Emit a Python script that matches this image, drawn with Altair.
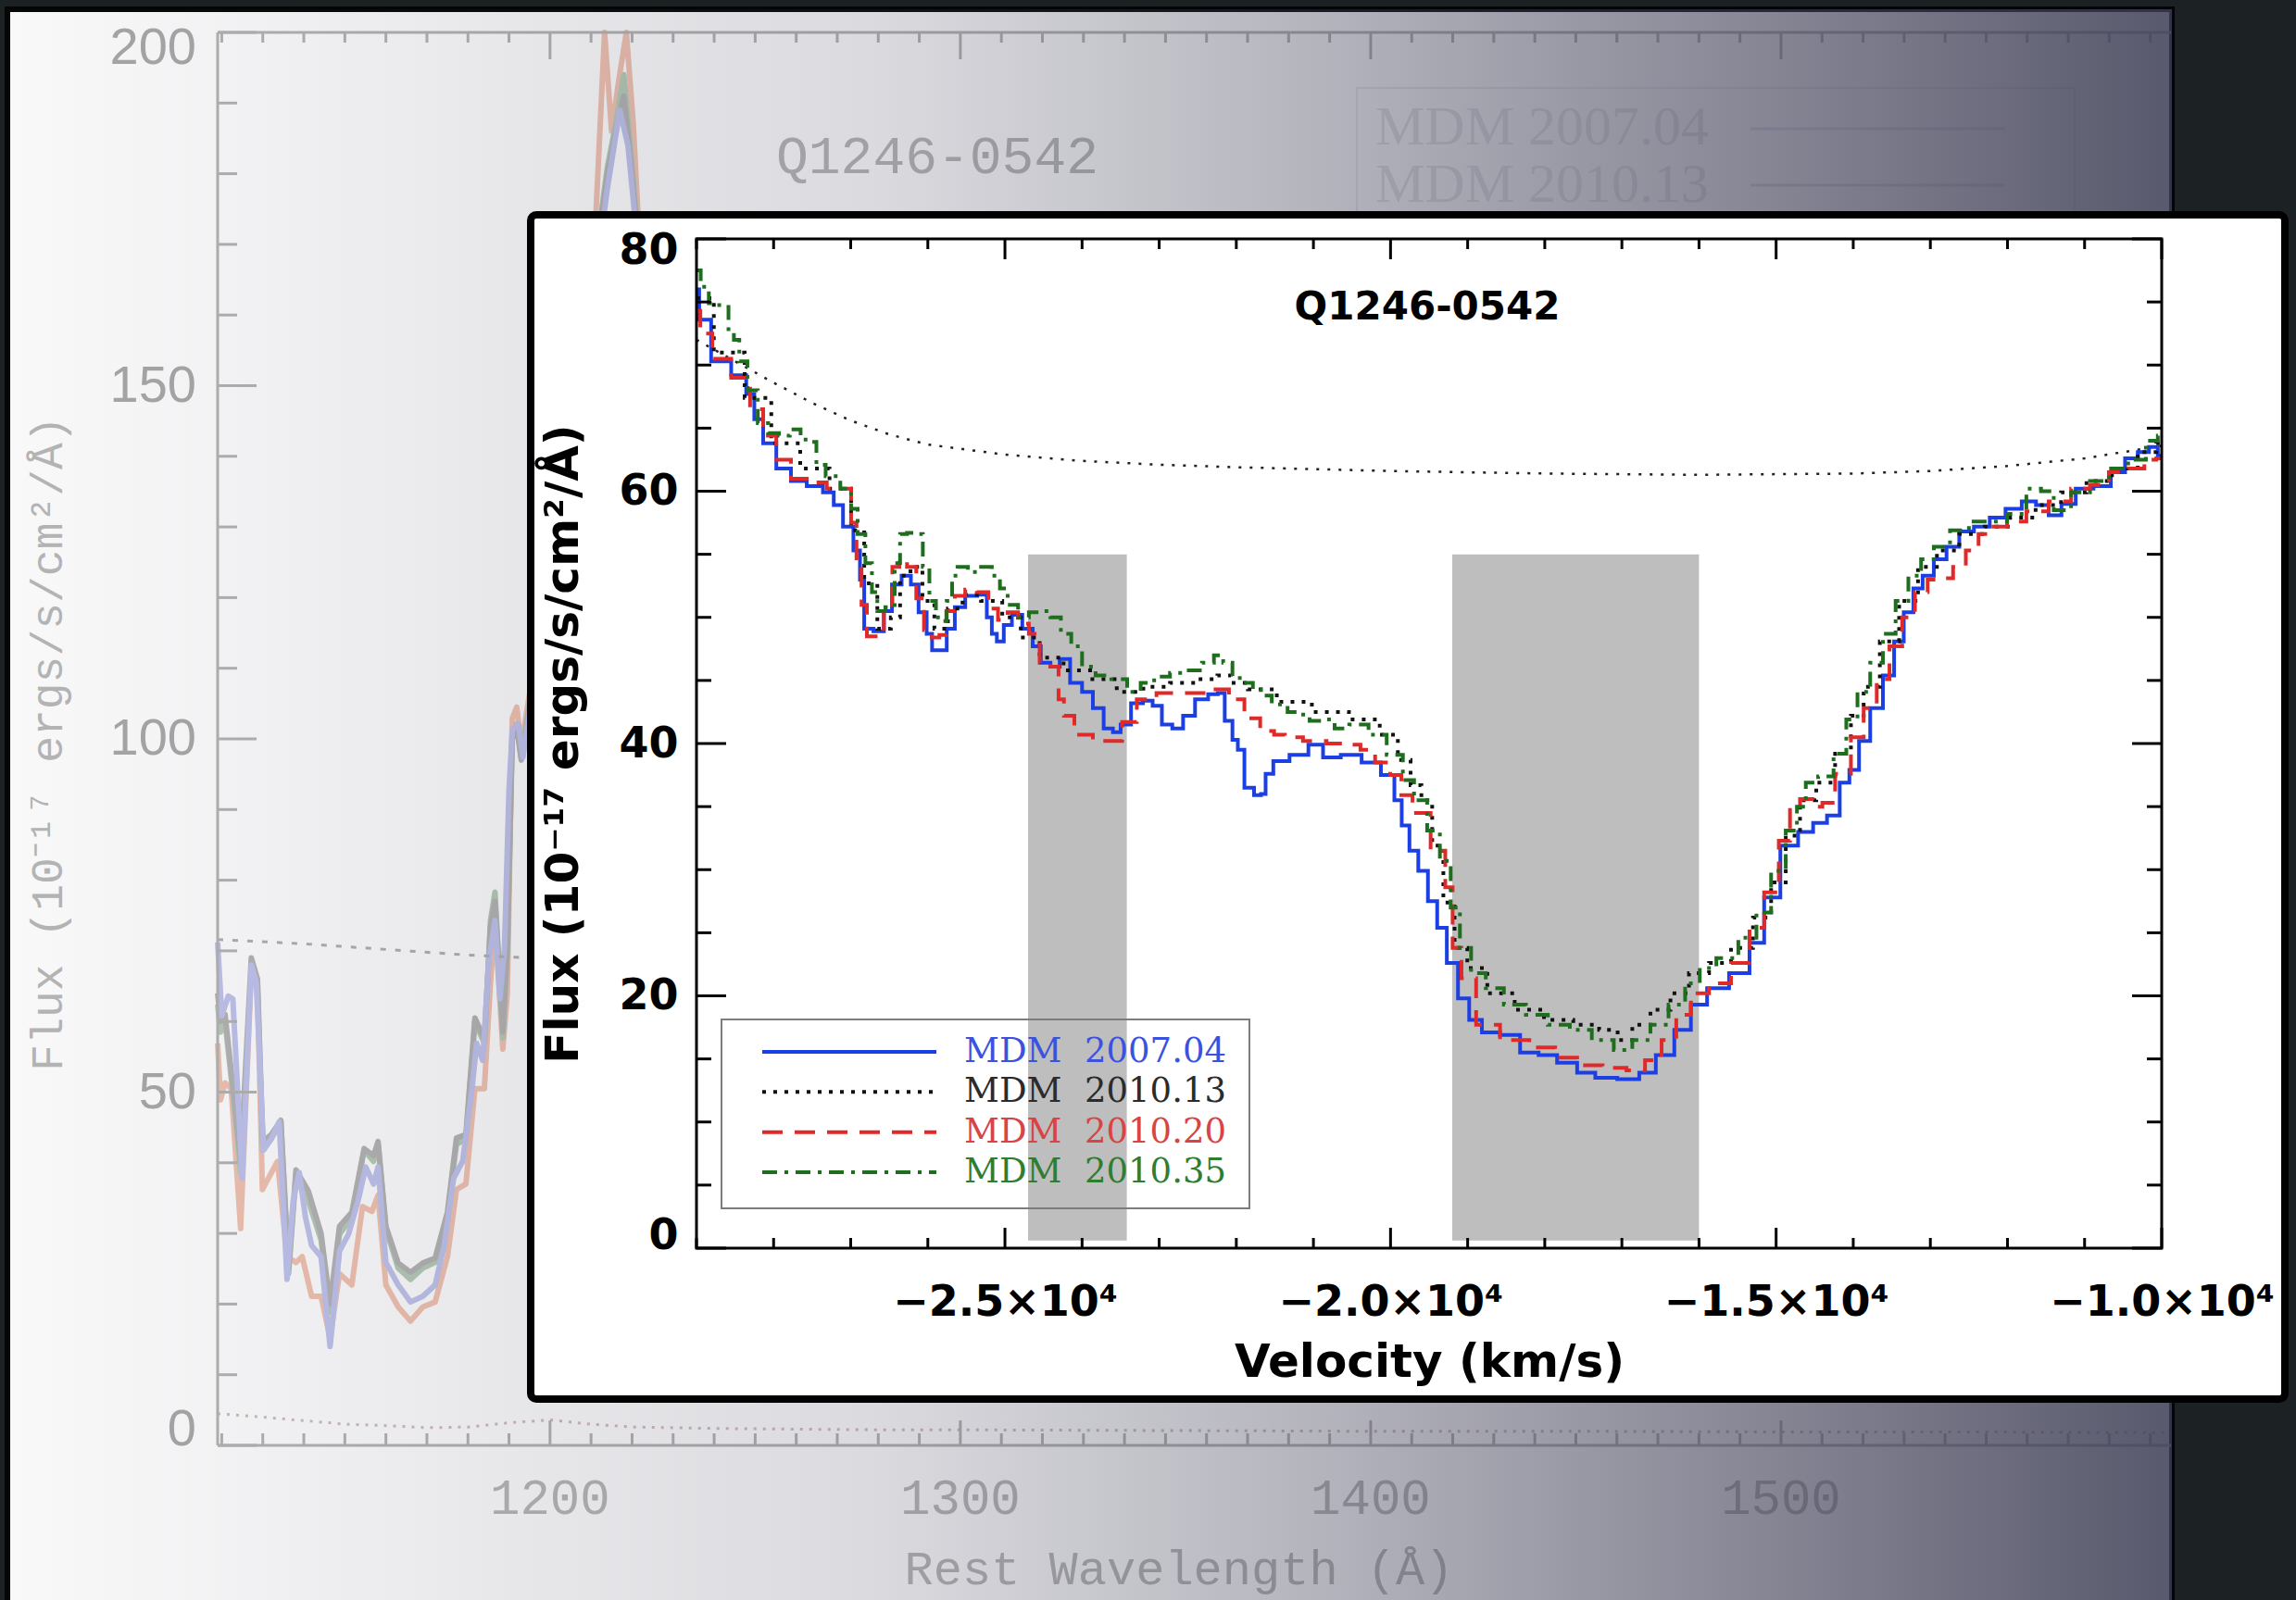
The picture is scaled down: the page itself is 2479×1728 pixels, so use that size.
import altair as alt
import pandas as pd

# Inset plot rectangle (px) and the padding that places it on the slide canvas.
W, H = 1582, 1090
PAD = {"left": 752, "top": 258, "right": 145, "bottom": 380}

# ------------------------------------------------------------------ inset data
series_names = ["MDM 2007.04", "MDM 2010.13", "MDM 2010.20", "MDM 2010.35"]
series_colors = ["#1c3fe3", "#111111", "#e02a2a", "#1e6e1e"]
series_dashes = [[1, 0], [4, 8], [22, 13], [16, 8, 4, 8]]
label_colors = ["#3b52de", "#2b2b2b", "#d84444", "#2f7d2f"]

blue_v = [-29000, -28930, -28690, -28410, -28300, -28200, -28070, -27860, -27690, -27450,
          -27270, -27170, -27030, -26900, -26860, -26790, -26620, -26520, -26410, -26270,
          -26170, -26070, -25960, -25930, -25790, -25720, -25580, -25450, -25270, -25200,
          -25140, -25070, -24960, -24860, -24690, -24590, -24480, -24340, -24240, -24070,
          -23930, -23790, -23650, -23550, -23450, -23280, -23140, -23030, -22900, -22760,
          -22620, -22450, -22280, -22200, -22100, -22000, -21960, -21830, -21710, -21650,
          -21590, -21450, -21170, -20960, -20790, -20500, -20250, -20000, -19900, -19810,
          -19700, -19580, -19450, -19340, -19200, -19050, -18910, -18720, -18440, -18200,
          -17960, -17720, -17440, -17250, -16870, -16680, -16440, -16200, -16010, -15780,
          -15440, -15250, -15060, -14830, -14600, -14440, -14240, -14110, -13990, -13860,
          -13700, -13530, -13410, -13280, -13160, -13040, -12870, -12710, -12540, -12330,
          -12130, -11920, -11710, -11550, -11380, -11220, -11010, -10760, -10560, -10390,
          -10230, -10100, -10000]
blue_f = [76.0, 73.6, 70.3, 69.2, 67.7, 65.7, 63.8, 61.8, 60.8, 60.4,
          59.9, 58.9, 57.2, 55.3, 53.0, 49.1, 48.9, 50.5, 52.6, 53.3,
          52.6, 50.4, 48.7, 47.4, 47.4, 49.1, 50.8, 51.7, 51.8, 50.0,
          48.7, 48.1, 49.4, 50.2, 49.1, 47.7, 46.4, 46.1, 46.7, 44.8,
          44.1, 42.8, 41.2, 40.9, 41.5, 43.2, 43.4, 43.0, 41.5, 41.2,
          42.2, 43.5, 43.9, 44.0, 41.8, 40.3, 39.5, 36.5, 35.9, 36.0,
          37.6, 38.6, 39.1, 39.9, 38.9, 39.1, 38.5, 37.5, 35.5, 33.5,
          31.5, 29.9, 27.5, 25.4, 22.6, 19.8, 18.1, 17.1, 16.9, 15.5,
          15.3, 14.7, 13.9, 13.5, 13.4, 13.9, 15.3, 17.3, 19.3, 20.6,
          21.8, 24.2, 27.8, 31.9, 33.0, 33.7, 34.3, 36.9, 37.9, 40.2,
          42.8, 45.4, 48.1, 50.4, 52.3, 53.3, 54.6, 55.6, 56.8, 57.2,
          57.9, 58.6, 59.2, 58.9, 58.1, 59.0, 60.2, 60.4, 61.5, 62.6,
          63.1, 63.5, 62.8]

black_v = [-29000, -28550, -28200, -27860, -27450, -27100, -26890, -26760, -26550, -26410,
           -26310, -26140, -26000, -25830, -25650, -25450, -25170, -24900, -24690, -24410,
           -24070, -23720, -23380, -23030, -22690, -22340, -22150, -21990, -21710, -21240,
           -20800, -20280, -20000, -19810, -19670, -19530, -19390, -19240, -19100, -18910,
           -18580, -18200, -17820, -17440, -17150, -16960, -16770, -16490, -16250, -16010,
           -15730, -15440, -15160, -14970, -14780, -14600, -14360, -14110, -13950, -13780,
           -13530, -13280, -13040, -12790, -12460, -12130, -11800, -11470, -11140, -10810,
           -10480, -10140, -10000]
black_f = [75.3, 71.0, 67.4, 63.8, 61.8, 60.2, 56.9, 52.7, 49.1, 50.0,
           53.3, 54.0, 51.3, 49.1, 50.7, 51.8, 51.3, 50.0, 48.4, 46.8,
           45.8, 45.1, 44.1, 44.5, 44.8, 45.1, 45.4, 44.8, 44.3, 43.3,
           42.5, 41.9, 40.7, 38.7, 36.7, 35.5, 31.9, 27.4, 23.8, 22.2,
           20.2, 18.9, 18.1, 17.7, 17.3, 16.5, 17.7, 18.9, 20.2, 21.8,
           22.6, 23.8, 26.2, 29.0, 32.7, 35.5, 36.9, 39.2, 42.2, 44.5,
           48.1, 51.3, 54.0, 55.3, 56.6, 57.2, 57.9, 58.9, 59.9, 60.8,
           61.8, 63.1, 63.8]

red_v = [-29000, -28900, -28690, -28410, -28200, -28070, -27860, -27690, -27450, -27170,
         -27030, -26960, -26890, -26830, -26750, -26620, -26520, -26400, -26340, -26200,
         -26100, -26000, -25900, -25800, -25720, -25580, -25450, -25280, -25150, -25030,
         -24900, -24760, -24620, -24480, -24340, -24270, -24200, -24000, -23720, -23550,
         -23410, -23170, -22900, -22570, -22190, -22000, -21790, -21590, -21430, -21310,
         -20960, -20700, -20480, -20300, -20100, -19910, -19810, -19620, -19340, -19240,
         -19150, -19010, -18770, -18390, -18010, -17720, -17440, -17060, -16820, -16580,
         -16390, -16200, -16010, -15730, -15440, -15250, -15060, -14870, -14770, -14610,
         -14440, -14360, -14110, -13950, -13780, -13610, -13450, -13280, -13120, -12950,
         -12790, -12620, -12460, -12290, -12130, -11880, -11630, -11300, -11050, -10810,
         -10560, -10310, -10140, -10000]
red_f = [74.3, 72.5, 70.5, 69.0, 66.5, 64.4, 62.5, 61.0, 60.7, 60.2,
         60.2, 57.5, 54.5, 51.0, 48.5, 48.5, 51.0, 54.0, 54.6, 54.0,
         51.5, 49.0, 48.4, 48.6, 50.5, 51.7, 52.2, 52.0, 50.7, 49.8,
         50.4, 49.5, 48.7, 46.4, 46.1, 43.5, 42.2, 40.7, 40.2, 40.2,
         41.7, 43.5, 44.0, 44.0, 44.3, 43.5, 42.0, 41.0, 40.7, 40.5,
         40.2, 40.0, 39.9, 39.5, 38.5, 37.5, 35.9, 34.5, 31.5, 28.6,
         23.8, 21.4, 17.7, 16.5, 15.9, 15.1, 14.5, 14.3, 14.1, 14.9,
         16.5, 18.5, 20.2, 21.0, 22.6, 25.4, 28.2, 32.3, 35.0, 35.6,
         35.0, 35.3, 37.6, 40.5, 42.8, 45.1, 47.7, 50.0, 52.0, 53.0,
         53.1, 54.0, 55.3, 56.6, 57.2, 57.6, 58.4, 59.2, 60.2, 60.5,
         61.5, 61.8, 62.5, 62.6]

green_v = [-29000, -28890, -28790, -28620, -28550, -28480, -28410, -28270, -28140, -28000,
           -27860, -27720, -27580, -27480, -27410, -27240, -27030, -26960, -26860, -26760,
           -26690, -26620, -26480, -26380, -26340, -26200, -26100, -26030, -25930, -25860,
           -25790, -25720, -25650, -25580, -25380, -25240, -25100, -25030, -24900, -24760,
           -24620, -24480, -24340, -24210, -24070, -23930, -23720, -23520, -23310, -23170,
           -22960, -22760, -22550, -22340, -22240, -22100, -22000, -21860, -21710, -21650,
           -21430, -21240, -21140, -20960, -20760, -20690, -20380, -20190, -19910, -19770,
           -19620, -19430, -19290, -19150, -19050, -18860, -18670, -18390, -18100, -17820,
           -17530, -17250, -16960, -16770, -16490, -16300, -16060, -15920, -15630, -15350,
           -15160, -14970, -14780, -14680, -14550, -14360, -14150, -14030, -13860, -13700,
           -13530, -13370, -13200, -13040, -12870, -12620, -12380, -12130, -11880, -11630,
           -11500, -11300, -11050, -10810, -10560, -10310, -10100, -10000]
green_f = [77.5, 76.2, 74.9, 74.6, 72.6, 72.0, 70.3, 68.0, 65.4, 64.6,
           64.4, 64.9, 64.1, 63.9, 62.1, 61.2, 60.2, 58.6, 56.6, 54.3,
           52.0, 50.5, 50.8, 54.3, 56.6, 56.7, 56.6, 54.0, 51.3, 50.0,
           49.7, 51.3, 53.3, 54.0, 53.6, 54.0, 53.3, 52.3, 51.0, 50.0,
           50.4, 50.5, 50.0, 48.7, 47.7, 46.1, 45.4, 45.1, 44.1, 44.8,
           45.3, 45.6, 45.8, 46.4, 47.0, 46.4, 45.2, 44.8, 44.3, 43.8,
           43.1, 42.5, 42.3, 41.8, 41.9, 41.2, 41.5, 40.7, 39.1, 37.1,
           35.5, 33.1, 30.7, 27.0, 23.8, 21.8, 20.6, 19.3, 18.5, 17.7,
           17.3, 16.5, 15.7, 16.5, 17.7, 19.3, 21.0, 22.2, 23.0, 24.6,
           26.6, 29.9, 33.1, 35.0, 36.9, 37.4, 39.2, 41.9, 44.1, 46.4,
           48.7, 51.3, 53.3, 54.6, 55.6, 56.9, 57.6, 57.6, 58.2, 60.2,
           60.0, 58.5, 59.9, 60.8, 61.8, 62.5, 64.0, 64.4]

# unabsorbed continuum fit (thin dotted curve)
cont_v = [-29000, -28500, -28000, -27500, -27000, -26500, -26000, -25000, -24000, -23000,
          -22000, -20000, -18000, -16000, -14000, -13000, -12000, -11000, -10000]
cont_f = [72.0, 70.3, 68.6, 67.0, 65.6, 64.5, 63.7, 62.9, 62.4, 62.1,
          61.9, 61.6, 61.4, 61.3, 61.4, 61.6, 62.0, 62.6, 63.6]

# shaded velocity windows
shade_v0 = [-24700, -19200]
shade_v1 = [-23420, -16000]
shade_lo = [0.6, 0.6]
shade_hi = [55, 55]

# inset tick positions
vel_ticks = list(range(-29000, -9999, 1000))
vel_major = [-25000, -20000, -15000, -10000]
flux_ticks = list(range(0, 81, 5))
flux_major = [0, 20, 40, 60, 80]

# ------------------------------------------------------- background (slide) data
bg_names = ["MDM 2010.20", "MDM 2010.35", "MDM 2010.13", "MDM 2007.04"]
bg_colors = ["#f2c3b0", "#b6ccb6", "#b4b4b4", "#c0c3ec"]

bg_red_wl = [1119, 1119.7, 1120.8, 1122.3, 1124.6, 1127.2, 1128.7, 1129.9, 1132.1, 1133.6,
             1135.9, 1138.1, 1139.6, 1141.9, 1144.2, 1146.4, 1148.7, 1151.7, 1154.3, 1156.6,
             1158.1, 1160, 1163, 1166, 1169, 1172, 1175, 1177.2, 1179.5, 1181.7,
             1184, 1185.5, 1186.6, 1188.5, 1189.6, 1190.8, 1191.9, 1193, 1196, 1200,
             1204, 1208, 1211, 1213.3, 1215, 1216.7, 1218.6, 1220.3, 1222, 1225,
             1229, 1235]
bg_red_f = [56.9, 48.9, 51.3, 50.5, 30.7, 67.2, 64.8, 36.2, 38.6, 40.2,
            26.7, 25.9, 26.7, 21.1, 21.1, 15.2, 24.3, 22.7, 33.8, 33.1,
            35.4, 22.7, 19.6, 17.6, 19.6, 20.3, 26.7, 36.2, 37.0, 50.5,
            50.5, 65.6, 74.3, 56.1, 64.0, 102.9, 104.5, 99.0, 110, 125,
            140, 155, 172, 200, 186, 193, 200, 187, 168, 145,
            120, 102]

bg_green_wl = [1119, 1119.7, 1120.8, 1122.3, 1124.6, 1127.2, 1128.7, 1130, 1132.1, 1134.4,
               1136.3, 1138.1, 1141.1, 1144.2, 1146.4, 1148.7, 1151.7, 1154.7, 1157, 1158.1,
               1160, 1163, 1166, 1169, 1172, 1175, 1177.2, 1179.5, 1181.7, 1184,
               1185.5, 1186.6, 1188.5, 1189.6, 1190.8, 1191.9, 1193, 1196, 1200, 1204,
               1208, 1211, 1214, 1216, 1218, 1220, 1223, 1227, 1235]
bg_green_f = [62.4, 58.5, 60.0, 52.0, 38.6, 67.2, 64.8, 41.8, 43.4, 45.8,
              24.3, 38.6, 34.6, 29.1, 18.8, 29.9, 32.3, 41.8, 40.2, 42.6,
              30.7, 25.1, 23.5, 25.1, 25.9, 32.3, 42.6, 43.4, 60.0, 56.9,
              74.3, 78.3, 57.7, 70.0, 100.5, 102.1, 97.4, 109, 123, 139,
              153, 168, 181, 187, 194, 181, 160, 136, 101]

bg_black_wl = bg_green_wl
bg_black_f = [64.0, 60.0, 61.0, 53.0, 40.0, 69.0, 66.0, 43.0, 44.0, 46.0,
              25.0, 39.0, 36.0, 30.0, 20.0, 31.0, 33.0, 42.0, 41.0, 43.0,
              31.0, 25.8, 24.5, 25.8, 26.5, 33.0, 43.5, 44.0, 60.5, 57.5,
              73.5, 77.0, 58.5, 70.5, 100.0, 101.5, 97.0, 108, 122, 138,
              152, 167, 180, 186, 191, 180, 159, 135, 100]

bg_blue_wl = [1119, 1120, 1121.6, 1122.7, 1125, 1127.2, 1128.4, 1130.2, 1132.1, 1134,
              1135.9, 1137.4, 1138.9, 1140.4, 1141.9, 1144.2, 1146.4, 1148.7, 1150.9, 1153.2,
              1155.1, 1157, 1158.1, 1160, 1163, 1166, 1169, 1172, 1174.2, 1176.5,
              1178.7, 1181, 1182.1, 1183.6, 1185.1, 1186.6, 1187.8, 1188.9, 1190, 1190.8,
              1192.3, 1193.4, 1196, 1200, 1204, 1208, 1211, 1214, 1217, 1219,
              1221, 1224, 1228, 1235]
bg_blue_f = [71.2, 60.8, 63.6, 63.2, 37.8, 68.0, 65.6, 41.8, 43.4, 45.8,
             23.5, 34.6, 38.6, 32.3, 28.3, 26.7, 14.0, 27.5, 29.9, 34.6,
             39.4, 37.0, 39.4, 25.9, 22.7, 20.3, 21.1, 22.7, 28.3, 37.8,
             40.2, 50.5, 56.9, 54.5, 68.8, 74.3, 63.2, 70.4, 92.6, 101.3,
             102.1, 97.4, 108, 122, 138, 152, 165, 178, 189, 184,
             172, 152, 128, 100]

bg_cont_wl = [1119, 1140, 1160, 1180, 1195, 1240]
bg_cont_f = [71.6, 71.0, 70.2, 69.4, 69.0, 68.0]

bg_err_wl = [1119, 1130, 1140, 1150, 1160, 1170, 1180, 1190, 1200, 1210, 1220,
             1240, 1260, 1280, 1300, 1350, 1400, 1450, 1500, 1550, 1595]
bg_err_f = [4.5, 4.0, 3.5, 3.0, 2.8, 2.5, 2.6, 3.2, 3.6, 3.0, 2.6,
            2.4, 2.3, 2.2, 2.2, 2.1, 2.0, 2.0, 1.9, 1.9, 1.8]

bg_wl_ticks = list(range(1120, 1591, 10))
bg_wl_major = [1200, 1300, 1400, 1500]
bg_flux_ticks = list(range(0, 201, 10))
bg_flux_major = [0, 50, 100, 150, 200]
bg_wl_range = [1119, 1595]

# ------------------------------------------------------------------ scales
inset_x = alt.Scale(domain=[-29000, -10000], nice=False, zero=False)
inset_y = alt.Scale(domain=[0, 80], nice=False, zero=False)
bg_x = alt.Scale(domain=[1119, 1600], range=[-517, 1614], nice=False, zero=False)
bg_y = alt.Scale(domain=[0, 200], range=[1303, -223], nice=False, zero=False)

one = pd.DataFrame({"k": [0]})


def px_rect(x0, x1, y0, y1, **mark):
    return alt.Chart(one).mark_rect(**mark).encode(
        x=alt.value(x0), x2=alt.value(x1), y=alt.value(y0), y2=alt.value(y1))


def px_text(x, y, text, **mark):
    return alt.Chart(one).mark_text(**mark).encode(
        x=alt.value(x), y=alt.value(y), text=alt.value(text))


# ------------------------------------------------------------ background slide
panel = px_rect(-744, 1593, -248, 1492, fill="white", stroke="#050505", strokeWidth=6)

bg_rows = []
for name, wl, fl in [("MDM 2010.20", bg_red_wl, bg_red_f),
                     ("MDM 2010.35", bg_green_wl, bg_green_f),
                     ("MDM 2010.13", bg_black_wl, bg_black_f),
                     ("MDM 2007.04", bg_blue_wl, bg_blue_f)]:
    assert len(wl) == len(fl)
    bg_rows += [{"series": name, "wl": a, "flux": b} for a, b in zip(wl, fl)]
bg_df = pd.DataFrame(bg_rows)

bg_lines = alt.Chart(bg_df).mark_line(strokeWidth=6, strokeJoin="round").encode(
    x=alt.X("wl:Q", scale=bg_x, axis=None),
    y=alt.Y("flux:Q", scale=bg_y, axis=None),
    color=alt.Color("series:N", scale=alt.Scale(domain=bg_names, range=bg_colors), legend=None),
)
bg_cont = alt.Chart(pd.DataFrame({"wl": bg_cont_wl, "flux": bg_cont_f})).mark_line(
    color="#b0b0b0", strokeWidth=3, strokeDash=[6, 10]).encode(
    x=alt.X("wl:Q", scale=bg_x, axis=None), y=alt.Y("flux:Q", scale=bg_y, axis=None))
bg_err = alt.Chart(pd.DataFrame({"wl": bg_err_wl, "flux": bg_err_f})).mark_line(
    color="#d0bcbc", strokeWidth=3, strokeDash=[3, 7]).encode(
    x=alt.X("wl:Q", scale=bg_x, axis=None), y=alt.Y("flux:Q", scale=bg_y, axis=None))

bg_lim = pd.DataFrame({"wl": [bg_wl_range[0]], "wl2": [bg_wl_range[1]], "f0": [0], "f1": [200]})
bg_axis_col = "#b4b4b4"
bg_left = alt.Chart(bg_lim).mark_rule(color=bg_axis_col, strokeWidth=3).encode(
    x=alt.X("wl:Q", scale=bg_x, axis=None), y=alt.Y("f0:Q", scale=bg_y, axis=None), y2="f1:Q")
bg_bottom = alt.Chart(bg_lim).mark_rule(color=bg_axis_col, strokeWidth=3).encode(
    x=alt.X("wl:Q", scale=bg_x, axis=None), x2="wl2:Q", y=alt.Y("f0:Q", scale=bg_y, axis=None))
bg_top = alt.Chart(bg_lim).mark_rule(color=bg_axis_col, strokeWidth=3).encode(
    x=alt.X("wl:Q", scale=bg_x, axis=None), x2="wl2:Q", y=alt.Y("f1:Q", scale=bg_y, axis=None))


def bg_xticks(vals, y0, y1):
    return alt.Chart(pd.DataFrame({"wl": vals})).mark_rule(color=bg_axis_col, strokeWidth=3).encode(
        x=alt.X("wl:Q", scale=bg_x, axis=None), y=alt.value(y0), y2=alt.value(y1))


def bg_yticks(vals, length):
    return alt.Chart(pd.DataFrame({"flux": vals})).mark_rule(color=bg_axis_col, strokeWidth=3).encode(
        y=alt.Y("flux:Q", scale=bg_y, axis=None), x=alt.value(-517), x2=alt.value(-517 + length))


bg_wl_minor = [t for t in bg_wl_ticks if t not in bg_wl_major]
bg_flux_minor = [t for t in bg_flux_ticks if t not in bg_flux_major]
bg_ticks = [
    bg_xticks(bg_wl_minor, 1303, 1290), bg_xticks(bg_wl_major, 1303, 1276),
    bg_xticks(bg_wl_minor, -223, -212), bg_xticks(bg_wl_major, -223, -194),
    bg_yticks(bg_flux_minor, 21), bg_yticks(bg_flux_major, 42),
]

bg_ylab_style = dict(font="Liberation Sans", fontSize=56, color="#a9a9a9", align="right")


def bg_ylabels(vals, dy):
    return alt.Chart(pd.DataFrame({"flux": vals})).mark_text(
        baseline="middle", dy=dy, **bg_ylab_style).encode(
        y=alt.Y("flux:Q", scale=bg_y, axis=None), x=alt.value(-540),
        text=alt.Text("flux:Q", format="d"))


bg_labels = [
    bg_ylabels([50, 100, 150], 0), bg_ylabels([0], -17), bg_ylabels([200], 17),
    alt.Chart(pd.DataFrame({"wl": bg_wl_major})).mark_text(
        font="Liberation Mono", fontSize=54, color="#b8b8b8", baseline="middle").encode(
        x=alt.X("wl:Q", scale=bg_x, axis=None), y=alt.value(1361),
        text=alt.Text("wl:Q", format="d")),
    px_text(521, 1437, "Rest Wavelength (Å)", font="Liberation Mono", fontSize=52,
            color="#b8b8b8", baseline="middle"),
    px_text(-699, 545, "Flux (10⁻¹⁷ ergs/s/cm²/Å)", font="Liberation Mono", fontSize=48,
            color="#b8b8b8", baseline="middle", angle=270),
    px_text(260, -88, "Q1246-0542", font="Liberation Mono", fontSize=58,
            color="#b8b8b8", baseline="middle"),
    px_text(733, -120, "MDM 2007.04", font="Liberation Serif", fontSize=60,
            color="#e6e6ea", baseline="middle", align="left"),
    px_text(733, -58, "MDM 2010.13", font="Liberation Serif", fontSize=60,
            color="#e6e6ea", baseline="middle", align="left"),
]
bg_legend_box = px_rect(713, 1488, -163, 72, filled=False, stroke="#ececf0", strokeWidth=2)
bg_legend_lines = [
    alt.Chart(one).mark_rule(color="#e4e5f2", strokeWidth=3).encode(
        x=alt.value(1138), x2=alt.value(1413), y=alt.value(-119)),
    alt.Chart(one).mark_rule(color="#e2e2e2", strokeWidth=3).encode(
        x=alt.value(1138), x2=alt.value(1413), y=alt.value(-58)),
]

# darkening wash across the slide, light on the left and slate on the right
overlay = px_rect(-744, 1593, -248, 1492, fill=alt.LinearGradient(
    gradient="linear", x1=0, y1=0, x2=1, y2=0,
    stops=[alt.GradientStop(offset=0.0, color="rgba(60,60,84,0.03)"),
           alt.GradientStop(offset=0.13, color="rgba(60,60,84,0.08)"),
           alt.GradientStop(offset=0.40, color="rgba(60,60,84,0.19)"),
           alt.GradientStop(offset=0.61, color="rgba(60,60,84,0.39)"),
           alt.GradientStop(offset=0.81, color="rgba(60,60,84,0.62)"),
           alt.GradientStop(offset=1.0, color="rgba(60,60,84,0.85)")]))

background_layers = [panel, bg_lines, bg_cont, bg_err, bg_left, bg_bottom, bg_top,
                     *bg_ticks, *bg_labels, bg_legend_box, *bg_legend_lines, overlay]

# ------------------------------------------------------------------ inset panel
box = px_rect(-179, 1715, -26, 1253, fill="white", stroke="black", strokeWidth=8, cornerRadius=6)

shade = alt.Chart(pd.DataFrame({"v0": shade_v0, "v1": shade_v1, "f0": shade_lo, "f1": shade_hi})
                  ).mark_rect(color="#bebebe").encode(
    x=alt.X("v0:Q", scale=inset_x, axis=None), x2="v1:Q",
    y=alt.Y("f0:Q", scale=inset_y, axis=None), y2="f1:Q")

cont = alt.Chart(pd.DataFrame({"v": cont_v, "flux": cont_f})).mark_line(
    color="#222222", strokeWidth=2.5, strokeDash=[3, 9]).encode(
    x=alt.X("v:Q", scale=inset_x, axis=None), y=alt.Y("flux:Q", scale=inset_y, axis=None))

rows = []
for name, vs, fs in zip(series_names, [blue_v, black_v, red_v, green_v],
                        [blue_f, black_f, red_f, green_f]):
    assert len(vs) == len(fs)
    rows += [{"series": name, "v": a, "flux": b} for a, b in zip(vs, fs)]
spec_df = pd.DataFrame(rows)

series_color = alt.Scale(domain=series_names, range=series_colors)
series_dash = alt.Scale(domain=series_names, range=series_dashes)

x_axis = alt.Axis(
    orient="bottom", values=vel_major, domain=False, ticks=False, grid=False,
    labelExpr="'\u2212' + format(abs(datum.value) / 10000, '.1f') + '\u00d710\u2074'",
    labelFont="DejaVu Sans", labelFontWeight="bold", labelFontSize=46, labelColor="black",
    labelPadding=36, labelFlush=False, labelOverlap=False, labelLimit=500,
    title="Velocity (km/s)", titleFont="DejaVu Sans", titleFontWeight="bold",
    titleFontSize=50, titleColor="black", titlePadding=17, zindex=1)
y_axis = alt.Axis(
    orient="left", values=flux_major, format="d", domain=False, ticks=False, grid=False,
    labelFont="DejaVu Sans", labelFontWeight="bold", labelFontSize=46, labelColor="black",
    labelPadding=20, labelFlush=True, labelFlushOffset=10, labelOverlap=False,
    title="Flux (10⁻¹⁷ ergs/s/cm²/Å)", titleFont="DejaVu Sans", titleFontWeight="bold",
    titleFontSize=50, titleColor="black", titlePadding=34, zindex=1)

spectra = alt.Chart(spec_df).mark_line(interpolate="step", strokeWidth=4).encode(
    x=alt.X("v:Q", scale=inset_x, axis=x_axis),
    y=alt.Y("flux:Q", scale=inset_y, axis=y_axis),
    color=alt.Color("series:N", scale=series_color, legend=None),
    strokeDash=alt.StrokeDash("series:N", scale=series_dash, legend=None),
)

frame = px_rect(0, W, 0, H, filled=False, stroke="black", strokeWidth=3)


def xticks(vals, top, length):
    y0, y1 = (0, length) if top else (H, H - length)
    return alt.Chart(pd.DataFrame({"v": vals})).mark_rule(color="black", strokeWidth=3).encode(
        x=alt.X("v:Q", scale=inset_x, axis=None), y=alt.value(y0), y2=alt.value(y1))


def yticks(vals, right, length):
    x0, x1 = (W, W - length) if right else (0, length)
    return alt.Chart(pd.DataFrame({"flux": vals})).mark_rule(color="black", strokeWidth=3).encode(
        y=alt.Y("flux:Q", scale=inset_y, axis=None), x=alt.value(x0), x2=alt.value(x1))


vel_minor = [t for t in vel_ticks if t not in vel_major]
flux_minor = [t for t in flux_ticks if t not in flux_major]
inset_ticks = [
    xticks(vel_minor, False, 11), xticks(vel_major, False, 22),
    xticks(vel_minor, True, 11), xticks(vel_major, True, 22),
    yticks(flux_minor, False, 16), yticks(flux_major, False, 32),
    yticks(flux_minor, True, 16), yticks(flux_major, True, 32),
]

inset_title = px_text(789, 74, "Q1246-0542", font="DejaVu Sans", fontWeight="bold",
                      fontSize=42, color="black", baseline="middle")

# legend: one row per series, sample line + "MDM" + epoch, rows placed by a point scale
legend_df = pd.DataFrame({
    "series": series_names,
    "site": [n.split(" ")[0] for n in series_names],
    "epoch": [n.split(" ")[1] for n in series_names],
})
row_y = alt.Y("series:N", scale=alt.Scale(type="point", domain=series_names,
                                           range=[878, 1008], padding=0), axis=None)
label_color = alt.Color("series:N", scale=alt.Scale(domain=series_names, range=label_colors),
                        legend=None)
legend_box = px_rect(27, 597, 843, 1047, filled=False, stroke="#7d7d7d", strokeWidth=2)
legend_lines = alt.Chart(legend_df).mark_rule(strokeWidth=4).encode(
    x=alt.value(71), x2=alt.value(259), y=row_y,
    color=alt.Color("series:N", scale=series_color, legend=None),
    strokeDash=alt.StrokeDash("series:N", scale=series_dash, legend=None))
legend_site = alt.Chart(legend_df).mark_text(
    font="DejaVu Serif", fontSize=37, align="left", baseline="middle").encode(
    x=alt.value(289), y=row_y, text="site:N", color=label_color)
legend_epoch = alt.Chart(legend_df).mark_text(
    font="DejaVu Serif", fontSize=37, align="left", baseline="middle").encode(
    x=alt.value(419), y=row_y, text="epoch:N", color=label_color)

inset_layers = [box, shade, cont, spectra, frame, *inset_ticks, inset_title,
                legend_box, legend_lines, legend_site, legend_epoch]

chart = alt.layer(*background_layers, *inset_layers).resolve_scale(
    x="independent", y="independent", color="independent", strokeDash="independent"
).properties(
    width=W, height=H, padding=PAD,
    autosize=alt.AutoSizeParams(type="none"),
    background="#1c2124",
).configure_view(stroke="transparent")

chart.save("out.html", embed_options={"renderer": "svg", "actions": False})
